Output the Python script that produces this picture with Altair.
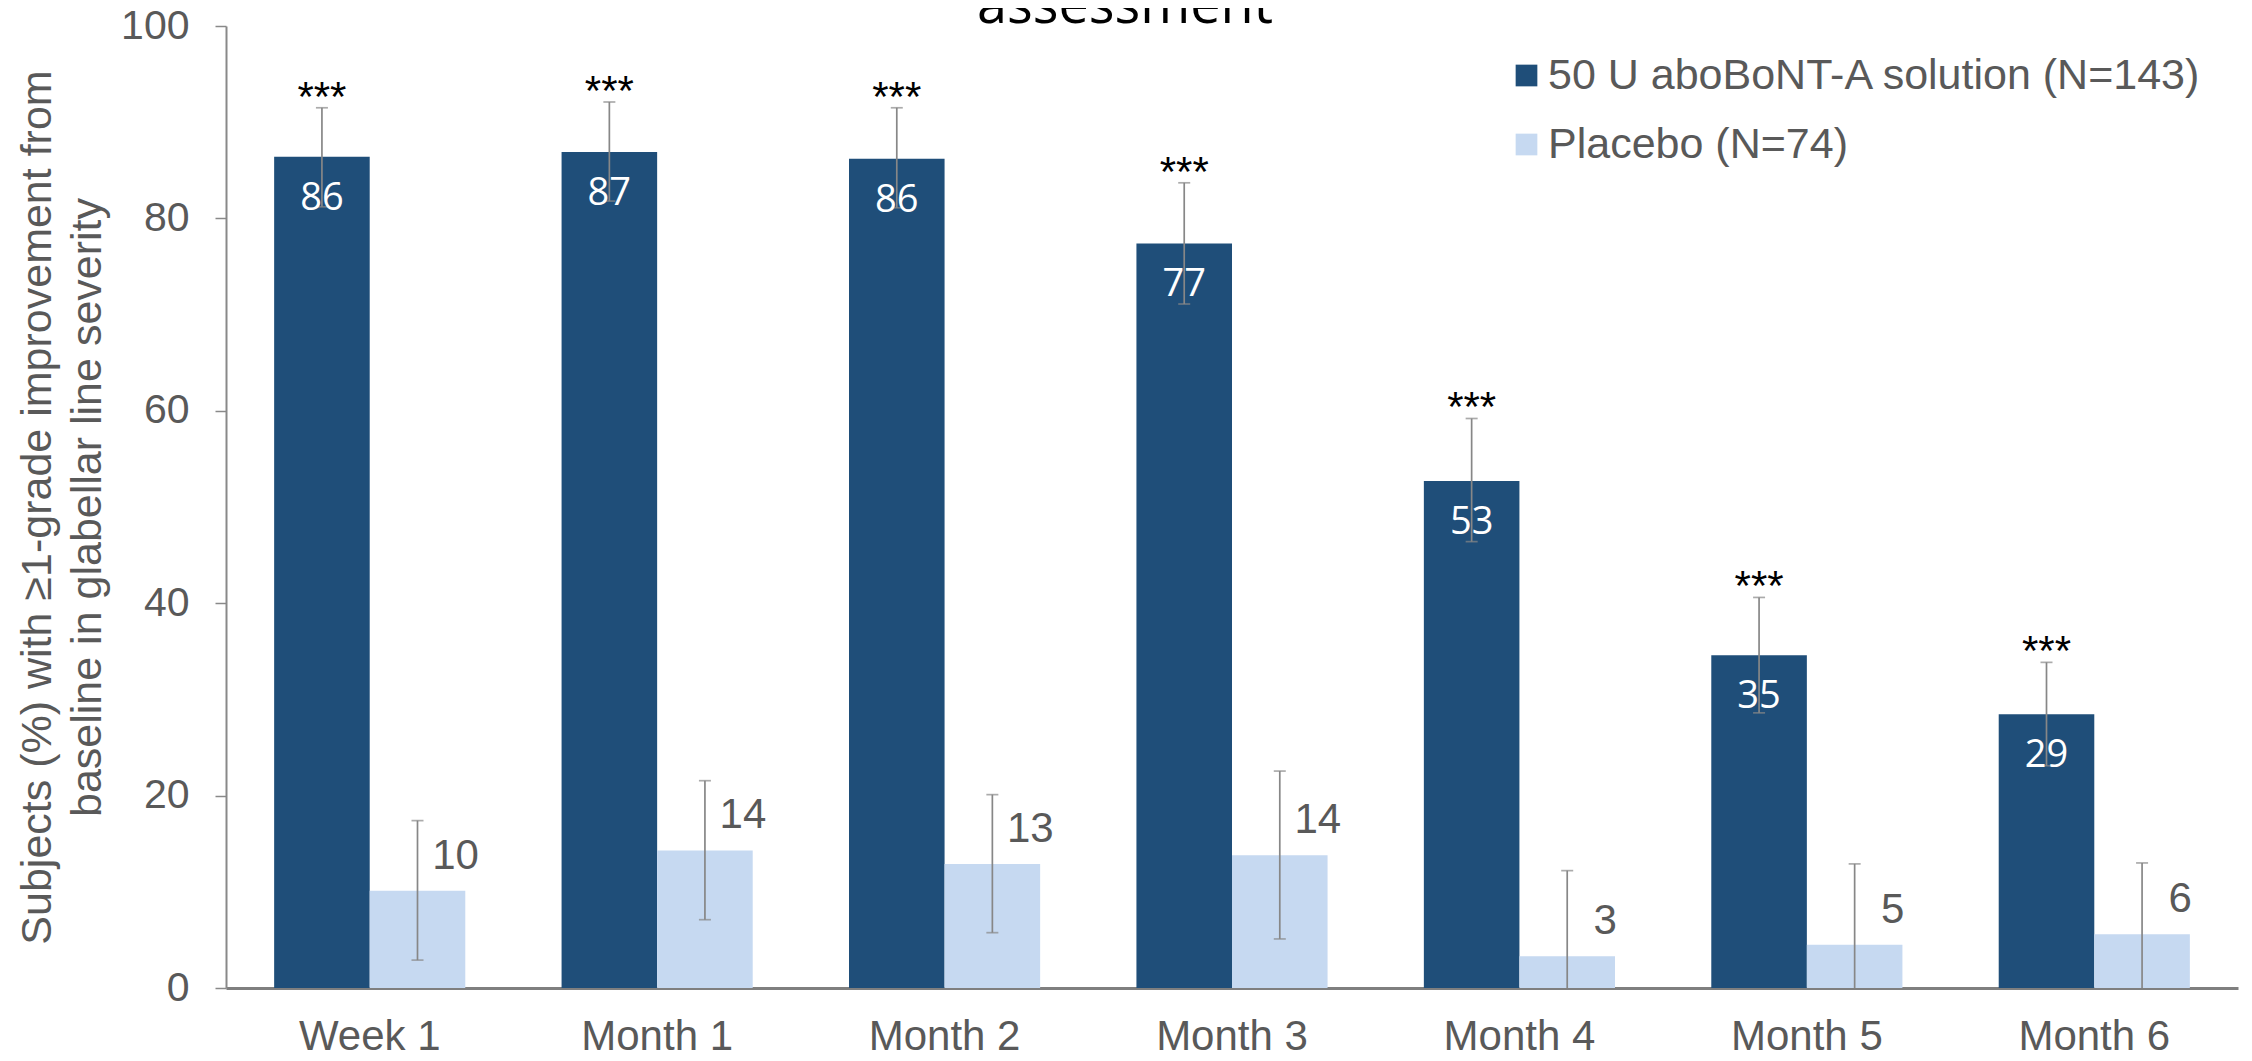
import altair as alt
import pandas as pd

periods = ["Week 1", "Month 1", "Month 2", "Month 3", "Month 4", "Month 5", "Month 6"]
groups = ["50 U aboBoNT-A solution (N=143)", "Placebo (N=74)"]

abo_values = [86.4, 86.9, 86.2, 77.4, 52.7, 34.6, 28.45]
abo_labels = ["86", "87", "86", "77", "53", "35", "29"]
abo_lower = [81.2, 81.8, 81.1, 71.1, 46.4, 28.6, 23.1]
abo_upper = [91.5, 92.1, 91.5, 83.7, 59.2, 40.6, 33.85]
abo_signif = ["***", "***", "***", "***", "***", "***", "***"]

placebo_values = [10.1, 14.3, 12.9, 13.8, 3.3, 4.5, 5.6]
placebo_labels = ["10", "14", "13", "14", "3", "5", "6"]
placebo_lower = [2.9, 7.1, 5.75, 5.1, 0, 0, 0]
placebo_upper = [17.4, 21.55, 20.1, 22.55, 12.2, 12.9, 13.0]

y_ticks = [0, 20, 40, 60, 80, 100]
title_text = "assessment"
y_title = ["Subjects (%) with \u22651-grade improvement from", "baseline in glabellar line severity"]

colors = ["#1F4E79", "#C6D9F1"]
GREY = "#595959"
ERR = "#878787"
SANS = "Liberation Sans"

rows = []
for i, p in enumerate(periods):
    rows.append(dict(period=p, group=groups[0], value=abo_values[i], label=abo_labels[i],
                     lower=abo_lower[i], upper=abo_upper[i], signif=abo_signif[i]))
    rows.append(dict(period=p, group=groups[1], value=placebo_values[i], label=placebo_labels[i],
                     lower=placebo_lower[i], upper=placebo_upper[i], signif=""))
df = pd.DataFrame(rows)

caps = []
for r in rows:
    caps.append(dict(period=r["period"], group=r["group"], cap=r["upper"]))
    if r["lower"] > 0:
        caps.append(dict(period=r["period"], group=r["group"], cap=r["lower"]))
caps_df = pd.DataFrame(caps)

x_enc = alt.X("period:N", sort=periods,
              scale=alt.Scale(paddingInner=0.335, paddingOuter=0.1675),
              axis=alt.Axis(title=None, labelAngle=0, ticks=False, tickSize=0,
                            labelFont=SANS, labelFontSize=42, labelColor=GREY,
                            labelPadding=28, domainColor="#7F7F7F", domainWidth=3))
xo_enc = alt.XOffset("group:N", sort=groups, scale=alt.Scale(paddingInner=0, paddingOuter=0))

y_axis = alt.Axis(title=y_title, values=y_ticks, grid=False,
                  labelFont=SANS, labelFontSize=41, labelColor=GREY, labelPadding=26,
                  tickSize=11, tickColor="#898989", tickWidth=1.5,
                  domainColor="#898989", domainWidth=2,
                  titleFont=SANS, titleFontSize=43, titleFontWeight="normal", titleColor=GREY,
                  titleAngle=270, titleBaseline="middle", titleAlign="center",
                  titleX=-188.5, titleY=481, titleLineHeight=50)
y_scale = alt.Scale(domain=[0, 100], nice=False)

base = alt.Chart(df)

bars = base.mark_bar().encode(
    x=x_enc, xOffset=xo_enc,
    y=alt.Y("value:Q", scale=y_scale, axis=y_axis),
    color=alt.Color("group:N", sort=groups,
                    scale=alt.Scale(domain=groups, range=colors),
                    legend=alt.Legend(title=None, orient="none", legendX=1279, legendY=28,
                                      direction="vertical", symbolType="square",
                                      symbolSize=471, symbolStrokeWidth=0,
                                      labelFont=SANS, labelFontSize=43, labelColor=GREY,
                                      labelOffset=0, rowPadding=25, padding=0, labelLimit=1000)),
)

err = base.mark_rule(color=ERR, strokeWidth=1.7).encode(
    x=x_enc, xOffset=xo_enc,
    y=alt.Y("lower:Q", scale=y_scale, axis=y_axis), y2="upper:Q",
)

cap_marks = alt.Chart(caps_df).mark_tick(color=ERR, thickness=1.7, size=12).encode(
    x=x_enc, xOffset=xo_enc,
    y=alt.Y("cap:Q", scale=y_scale, axis=y_axis),
)

stars = base.transform_filter(alt.datum.group == groups[0]).mark_text(
    font=SANS, fontSize=42, color="black", baseline="alphabetic", align="center", dy=3
).encode(
    x=x_enc, xOffset=xo_enc,
    y=alt.Y("upper:Q", scale=y_scale, axis=y_axis), text="signif:N",
)

white_labels = base.transform_filter(alt.datum.group == groups[0]).mark_text(
    font="Open Sans", fontSize=38, color="white", baseline="alphabetic", align="center", dy=53
).encode(
    x=x_enc, xOffset=xo_enc,
    y=alt.Y("value:Q", scale=y_scale, axis=y_axis), text="label:N",
)

grey_labels = base.transform_filter(alt.datum.group == groups[1]).mark_text(
    font=SANS, fontSize=42, color=GREY, baseline="alphabetic", align="center", dx=38, dy=-22
).encode(
    x=x_enc, xOffset=xo_enc,
    y=alt.Y("value:Q", scale=y_scale, axis=y_axis), text="label:N",
)

title = alt.Chart(pd.DataFrame({"t": [title_text]})).mark_text(
    font="Open Sans", fontSize=54, color="black", baseline="alphabetic", align="center"
).encode(x=alt.value(899), y=alt.value(-3.3), text="t:N")

chart = alt.layer(bars, err, cap_marks, stars, white_labels, grey_labels, title).properties(
    width=2012, height=962,
    autosize=alt.AutoSizeParams(type="none"),
    padding={"left": 218, "top": 18, "right": 6, "bottom": 76},
).configure_view(stroke=None)

chart.save("out.html", embed_options={"renderer": "svg", "actions": False})
